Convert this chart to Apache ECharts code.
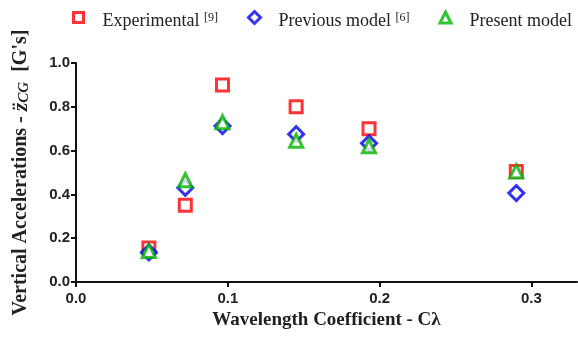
<!DOCTYPE html>
<html>
<head>
<meta charset="utf-8">
<script src="https://cdn.jsdelivr.net/npm/echarts@6/dist/echarts.min.js"></script>
<style>
  html, body { margin: 0; padding: 0; background: #fff; }
  #chart { width: 578px; height: 342px; }
</style>
</head>
<body>
<div id="chart"></div>
<script>
// wavelength coefficient (x) for each test case
const wavelength = [0.048, 0.072, 0.0965, 0.145, 0.193, 0.29];
const experimental = [0.155, 0.35, 0.9, 0.8, 0.7, 0.505];
const previousModel = [0.135, 0.43, 0.712, 0.675, 0.633, 0.406];
const presentModel = [0.142, 0.465, 0.73, 0.645, 0.62, 0.505];

const xTicks = [0, 0.1, 0.2, 0.3];

const serif = "'Liberation Serif', 'Times New Roman', serif";
const sans = "'Liberation Sans', Arial, sans-serif";

function pairs(ys) {
  return wavelength.map(function (x, i) { return [x, ys[i]]; });
}

const chart = echarts.init(document.getElementById("chart"));

// one legend per entry so each can sit where the original puts it
function legendFor(name, iconCenter, size, color) {
  return {
    data: [name],
    left: iconCenter - size / 2,
    top: 16 - size / 2,
    itemWidth: size,
    itemHeight: size,
    padding: 0,
    selectedMode: false,
    itemStyle: { color: "#fff", borderColor: color, borderWidth: 3 },
    formatter: function (n) {
      if (n === "Experimental") return "Experimental {sup|[9]}";
      if (n === "Previous model") return "Previous model {sup|[6]}";
      return n;
    },
    textStyle: {
      fontFamily: serif,
      fontSize: 18,
      color: "#222",
      padding: [8, 0, 0, 19 - size / 2],
      rich: {
        sup: { fontFamily: serif, fontSize: 12, color: "#222", verticalAlign: "top", padding: [0, 0, 8, 0] }
      }
    }
  };
}

chart.setOption({
  animation: false,
  backgroundColor: "#fff",
  grid: { left: 76, right: 1, top: 63, bottom: 60 },
  legend: [
    legendFor("Experimental", 77, 10, "#ff0000"),
    legendFor("Previous model", 253, 12, "#0000ee"),
    legendFor("Present model", 444, 11, "#00b400")
  ],
  xAxis: {
    type: "value",
    min: 0,
    max: 0.33,
    interval: 0.1,
    name: "Wavelength Coefficient - C\u03bb",
    nameLocation: "middle",
    nameGap: 26,
    nameTextStyle: { fontFamily: serif, fontWeight: "bold", fontSize: 19, color: "#222" },
    splitLine: { show: false },
    axisLine: { lineStyle: { color: "#111", width: 2 } },
    axisTick: { length: 5, lineStyle: { color: "#111", width: 2 }, customValues: xTicks },
    axisLabel: {
      customValues: xTicks,
      margin: 9,
      fontFamily: sans,
      fontWeight: "bold",
      fontSize: 15,
      color: "#222",
      formatter: function (v) { return v.toFixed(1); }
    }
  },
  yAxis: {
    type: "value",
    min: 0,
    max: 1.0,
    interval: 0.2,
    name: "Vertical Accelerations - {it|z\u0308}{sub|CG} [G's]",
    nameLocation: "middle",
    nameGap: 44,
    nameTextStyle: {
      fontFamily: serif,
      fontWeight: "bold",
      fontSize: 20,
      color: "#222",
      rich: {
        it: { fontFamily: serif, fontWeight: "bold", fontStyle: "italic", fontSize: 22, color: "#222" },
        sub: { fontFamily: serif, fontWeight: "bold", fontStyle: "italic", fontSize: 15, color: "#222", verticalAlign: "bottom", padding: [7, 5, 0, 0] }
      }
    },
    splitLine: { show: false },
    axisLine: { show: true, lineStyle: { color: "#111", width: 2 } },
    axisTick: { show: true, length: 5, lineStyle: { color: "#111", width: 2 } },
    axisLabel: {
      margin: 6,
      fontFamily: sans,
      fontWeight: "bold",
      fontSize: 15,
      color: "#222",
      formatter: function (v) { return v.toFixed(1); }
    }
  },
  series: [
    {
      name: "Experimental",
      type: "scatter",
      symbol: "rect",
      symbolSize: 12,
      itemStyle: { color: "#fff", borderColor: "#ff0000", borderWidth: 3 },
      data: pairs(experimental)
    },
    {
      name: "Previous model",
      type: "scatter",
      symbol: "diamond",
      symbolSize: 15,
      itemStyle: { color: "#fff", borderColor: "#0000ee", borderWidth: 3 },
      data: pairs(previousModel)
    },
    {
      name: "Present model",
      type: "scatter",
      symbol: "triangle",
      symbolSize: 13,
      itemStyle: { color: "#fff", borderColor: "#00b400", borderWidth: 3 },
      data: pairs(presentModel)
    }
  ]
});
</script>
</body>
</html>
